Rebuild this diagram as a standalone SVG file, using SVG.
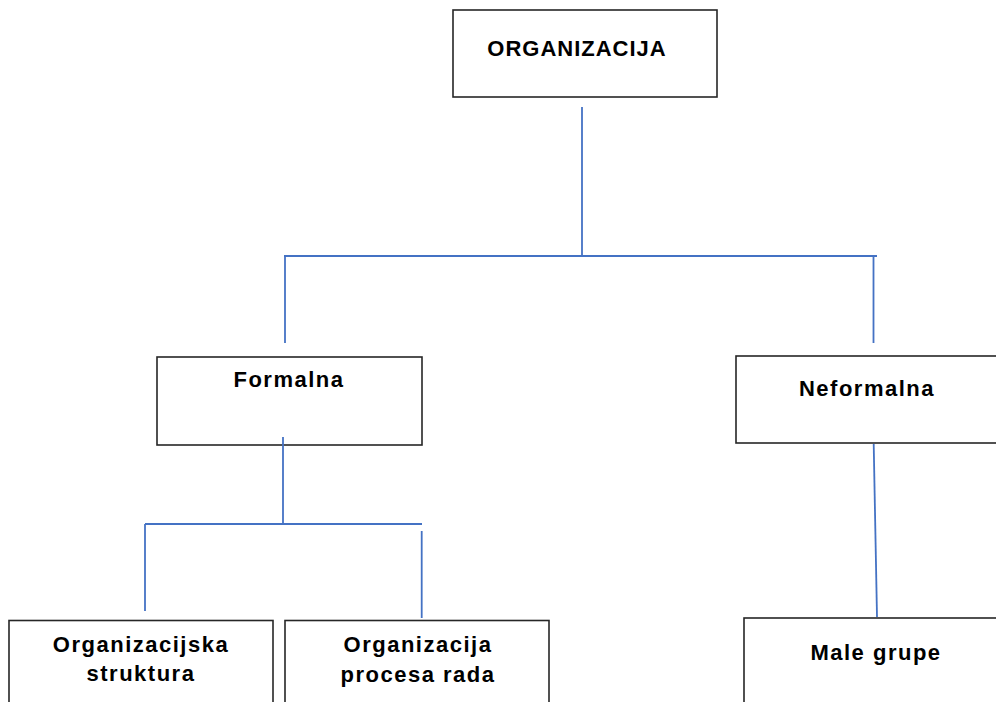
<svg xmlns="http://www.w3.org/2000/svg" width="996" height="702" viewBox="0 0 996 702">
<style>
.box{fill:#ffffff;stroke:#262626;stroke-width:1.6}
.lbl{font-family:"Liberation Sans",Arial,sans-serif;font-weight:bold;font-size:22px;fill:#000000;text-anchor:middle;letter-spacing:1.5px}
.con{fill:none;stroke:#4472c4;stroke-width:1.8}
</style>
<rect width="996" height="702" fill="#ffffff"/>
<g id="node-organizacija">
<rect class="box" x="453" y="10" width="264" height="87"/>
<text class="lbl" x="577" y="56" style="letter-spacing:1px">ORGANIZACIJA</text>
</g>
<g id="node-formalna">
<rect class="box" x="157" y="357" width="265" height="88"/>
<text class="lbl" x="289" y="387">Formalna</text>
</g>
<g id="node-neformalna">
<rect class="box" x="736" y="356" width="266" height="87"/>
<text class="lbl" x="867" y="396">Neformalna</text>
</g>
<g id="node-organizacijska-struktura">
<rect class="box" x="9" y="620.5" width="264" height="90"/>
<text class="lbl" x="141" y="652">Organizacijska</text>
<text class="lbl" x="141" y="681">struktura</text>
</g>
<g id="node-organizacija-procesa-rada">
<rect class="box" x="285" y="620.5" width="264" height="90"/>
<text class="lbl" x="418" y="652">Organizacija</text>
<text class="lbl" x="418" y="682">procesa rada</text>
</g>
<g id="node-male-grupe">
<rect class="box" x="744" y="618" width="264" height="90"/>
<text class="lbl" x="876" y="660">Male grupe</text>
</g>
<g id="connectors">
<path class="con" d="M582,107 V256"/>
<path class="con" d="M284,256 H877"/>
<path class="con" d="M285,256 V343"/>
<path class="con" d="M873.5,256 V343"/>
<path class="con" d="M283,437 V524"/>
<path class="con" d="M145,524 H422"/>
<path class="con" d="M145,524 V611"/>
<path class="con" d="M421.7,531 V618"/>
<path class="con" d="M873.7,444 L877,617"/>
</g>
</svg>
